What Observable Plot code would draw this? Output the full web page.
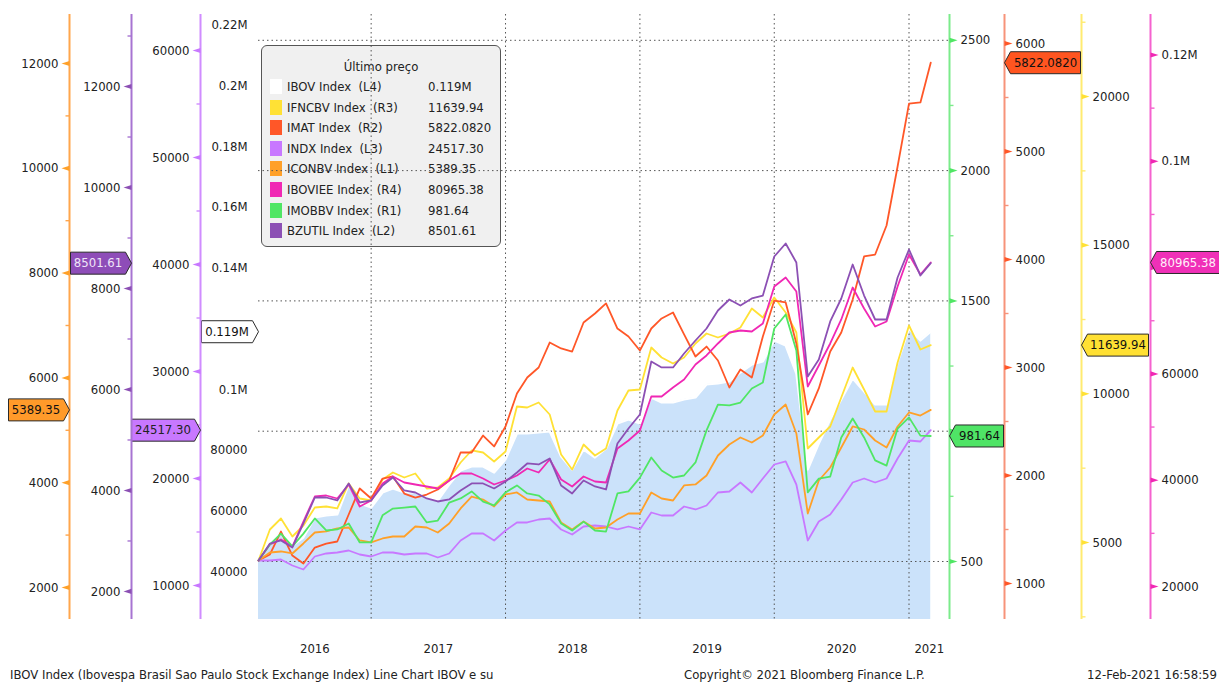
<!DOCTYPE html>
<html>
<head>
<meta charset="utf-8">
<script src="https://cdn.jsdelivr.net/npm/d3@7"></script>
<script src="https://cdn.jsdelivr.net/npm/@observablehq/plot@0.6"></script>
<style>
  html, body { margin: 0; padding: 0; background: #fff; }
  #wrap { position: relative; width: 1219px; height: 682px; overflow: hidden;
          font-family: "DejaVu Sans Condensed", "DejaVu Sans", sans-serif; font-stretch: condensed;
          font-size: 13px; color: #222; }
  #chart { position: absolute; left: 0; top: 0; z-index: 1; }
  #legend { position: absolute; left: 261px; top: 45px; width: 240px; height: 202px; box-sizing: border-box;
            background: #F0F0F0; border: 1.5px solid #555; border-radius: 6px; z-index: 0; }
  #legend .title { position: absolute; left: 0; right: 0; top: 11px; line-height: 20px; text-align: center; }
  #legend .row { position: absolute; left: 0; right: 0; height: 20px; line-height: 20px; }
  #legend .sw { position: absolute; left: 8px; top: 2px; width: 12px; height: 15px; }
  #legend .lab { position: absolute; left: 25px; white-space: pre; }
  #legend .val { position: absolute; left: 166px; white-space: pre; }
  .foot { position: absolute; top: 667px; line-height: 16px; white-space: pre; z-index: 2; }
</style>
</head>
<body>
<div id="wrap">
  <div id="legend"></div>
  <div id="chart"></div>
  <div class="foot" style="left:10px">IBOV Index (Ibovespa Brasil Sao Paulo Stock Exchange Index) Line Chart IBOV e su</div>
  <div class="foot" style="left:684px">Copyright© 2021 Bloomberg Finance L.P.</div>
  <div class="foot" style="right:2px">12-Feb-2021 16:58:59</div>
</div>
<script>
// ---------------- DATA ----------------
// monthly observations, Mar 2016 .. Mar 2021 (last = 12-Feb-2021)
const months = d3.utcMonth.range(new Date(Date.UTC(2016, 2, 1)), new Date(Date.UTC(2021, 2, 2)));

const ibovValues = [43625, 49885, 53180, 48567, 51203, 57793, 58452, 58781, 68666, 62405, 61088, 66030, 67348, 66030, 66030, 64382, 63394, 68666, 73278, 74596, 74596, 72620, 76903, 85470, 85470, 85800, 86129, 77891, 73608, 80198, 77562, 80527, 88765, 90083, 88765, 97331, 95684, 95684, 96672, 97331, 101615, 101944, 102603, 105568, 108204, 109193, 116112, 114465, 105239, 73608, 82175, 90083, 96672, 103592, 99308, 95025, 95025, 108863, 120066, 116112, 119000];
const ifncbvValues = [4395, 5437, 5807, 5202, 5572, 6177, 6211, 6144, 6985, 6480, 6413, 7119, 7355, 7186, 7321, 6816, 6850, 7153, 7691, 8095, 8027, 7725, 8061, 9575, 9541, 9709, 9305, 7960, 7455, 8296, 7926, 8162, 9440, 10113, 10146, 11559, 11223, 11021, 11223, 11694, 12030, 11895, 12030, 12232, 12871, 12568, 13241, 12736, 12064, 8162, 8532, 8902, 9877, 10886, 10146, 9406, 9406, 11054, 12299, 11492, 11639.94];
const imatValues = [1213, 1269, 1481, 1259, 1185, 1333, 1370, 1389, 1639, 1880, 1787, 1972, 1991, 1833, 1796, 1824, 1870, 1954, 2213, 2213, 2370, 2269, 2454, 2759, 2907, 3000, 3231, 3176, 3148, 3417, 3500, 3593, 3361, 3287, 3157, 3361, 3454, 3509, 3306, 3102, 3194, 3065, 2815, 2981, 2907, 3287, 3620, 3602, 3222, 2565, 2806, 3148, 3324, 3630, 4028, 4046, 4315, 4861, 5444, 5454, 5822.082];
const indxValues = [12336, 12336, 12430, 11869, 11495, 12710, 12991, 13084, 13271, 12897, 12710, 13084, 13084, 12897, 12991, 12991, 12617, 12991, 14206, 14860, 14860, 14206, 15140, 15888, 15888, 16168, 16262, 15234, 14766, 15514, 15607, 15514, 15234, 15514, 15234, 16822, 16542, 16542, 17383, 17103, 17477, 18692, 18785, 19626, 18692, 20000, 21308, 21589, 19439, 14206, 15981, 16636, 18037, 19626, 20000, 19626, 20000, 21869, 23551, 23458, 24517.30];
const iconbvValues = [2515, 2668, 2687, 2649, 2840, 3049, 3069, 3126, 3145, 2897, 2859, 2935, 2973, 2973, 3164, 3145, 3049, 3221, 3508, 3736, 3679, 3546, 3775, 3813, 3679, 3660, 3641, 3240, 3107, 3260, 3126, 3145, 3298, 3412, 3412, 3813, 3698, 3660, 3947, 3966, 4137, 4519, 4729, 4863, 4767, 4901, 5302, 5492, 4939, 3412, 4042, 4290, 4672, 5073, 5015, 4805, 4672, 5073, 5340, 5282, 5389.35];
const ibovieeValues = [24892, 27902, 28843, 27526, 32230, 36933, 37122, 36557, 39191, 35052, 36181, 39379, 40696, 39568, 39191, 38815, 38439, 39944, 41261, 41261, 40320, 39191, 39944, 40885, 42202, 41449, 43895, 40132, 38815, 40696, 39756, 39568, 45965, 47470, 49351, 55749, 55749, 57442, 58947, 61769, 63463, 65721, 67790, 68167, 67978, 69483, 76445, 78139, 75504, 57630, 61581, 65721, 70236, 76257, 72306, 68919, 69860, 76445, 82466, 78703, 80965.38];
const imobbvValues = [504, 565, 607, 558, 607, 665, 619, 623, 646, 573, 573, 677, 703, 707, 711, 650, 657, 726, 742, 769, 730, 715, 765, 792, 761, 753, 719, 646, 619, 653, 619, 615, 761, 769, 822, 899, 849, 822, 830, 880, 1003, 1102, 1099, 1110, 1164, 1187, 1394, 1448, 1310, 765, 818, 826, 976, 1049, 976, 888, 868, 1010, 1053, 983, 981.64];
const bzutilValues = [2614, 2950, 3010, 2871, 3347, 3861, 3861, 3802, 4139, 3762, 3802, 4099, 4257, 4000, 3960, 3842, 3782, 3822, 4000, 4139, 4139, 4040, 4178, 4356, 4535, 4515, 4634, 4099, 3941, 4198, 4079, 4020, 4931, 5228, 5505, 6554, 6436, 6436, 6713, 6970, 7208, 7564, 7782, 7663, 7802, 7861, 8634, 8891, 8515, 6257, 6594, 7347, 7802, 8475, 7861, 7386, 7386, 8218, 8772, 8257, 8501.61];

const seriesNames = ["IBOV", "IFNCBV", "IMAT", "INDX", "ICONBV", "IBOVIEE", "IMOBBV", "BZUTIL"];
const seriesAxes  = ["L4", "R3", "R2", "L3", "L1", "R4", "R1", "L2"];
const lastLabels  = ["0.119M", "11639.94", "5822.0820", "24517.30", "5389.35", "80965.38", "981.64", "8501.61"];
const seriesData  = [ibovValues, ifncbvValues, imatValues, indxValues, iconbvValues, ibovieeValues, imobbvValues, bzutilValues];

// tick values per axis
const majorTicks = {
  L1: [2000, 4000, 6000, 8000, 10000, 12000],
  L2: [2000, 4000, 6000, 8000, 10000, 12000],
  L3: [10000, 20000, 30000, 40000, 50000, 60000],
  L4: [40000, 60000, 80000, 100000, 120000, 140000, 160000, 180000, 200000, 220000],
  R1: [500, 1000, 1500, 2000, 2500],
  R2: [1000, 2000, 3000, 4000, 5000, 6000],
  R3: [5000, 10000, 15000, 20000],
  R4: [20000, 40000, 60000, 80000, 100000, 120000]
};
const minorTicks = {
  L1: [3000, 5000, 7000, 9000, 11000],
  L2: [3000, 5000, 7000, 9000, 11000, 13000],
  L3: [15000, 25000, 35000, 45000, 55000],
  L4: [],
  R1: [750, 1250, 1750, 2250],
  R2: [1500, 2500, 3500, 4500, 5500],
  R3: [2500, 7500, 12500, 17500, 22500],
  R4: [30000, 50000, 70000, 90000, 110000]
};
const yearLabels = ["2016", "2017", "2018", "2019", "2020", "2021"];

// ---------------- STYLE / LAYOUT ----------------
const seriesColors = ["#FFFFFF", "#FFE135", "#FF5728", "#C878FF", "#FFA028", "#F028B4", "#50E664", "#8C50B4"];
const W = 1219, H = 682, ML = 258, MR = 270, MT = 14, MB = 63;
const FL = ML, FR = W - MR, FH = H - MT - MB;
const xDomain = [new Date(Date.UTC(2016, 2, 1)), new Date(Date.UTC(2021, 3, 21))];

// each axis: position of its line and the value range covering the full plot height
const axisLayout = {
  L1: {side: "left",  x: 69,   lo: 1389,  hi: 12935,  line: "#FFA64D", boxW: 61, boxFill: "#FF9A2A", boxText: "#111"},
  L2: {side: "left",  x: 131,  lo: 1445,  hi: 13426,  line: "#A774D2", boxW: 61, boxFill: "#8E4DB8", boxText: "#F0E6F8"},
  L3: {side: "left",  x: 200,  lo: 6822,  hi: 63364,  line: "#D08CFF", boxW: 69, boxFill: "#C878FF", boxText: "#222"},
  L4: {side: "left",  x: 258,  lo: 24185, hi: 223524, line: null,      boxW: 57, boxFill: "#FFFFFF", boxText: "#111"},
  R1: {side: "right", x: 949,  lo: 277.4, hi: 2599,   line: "#7CEB8B", boxW: 54, boxFill: "#4FE466", boxText: "#111"},
  R2: {side: "right", x: 1004, lo: 666.7, hi: 6268.5, line: "#F7937A", boxW: 76, boxFill: "#FF5520", boxText: "#111"},
  R3: {side: "right", x: 1081, lo: 2410,  hi: 22760,  line: "#FFEB70", boxW: 67, boxFill: "#FFE033", boxText: "#111"},
  R4: {side: "right", x: 1150, lo: 13791, hi: 127620, line: "#F562CF", boxW: 69, boxFill: "#F030B8", boxText: "#FFF0FA"}
};
const norm = tag => { const a = axisLayout[tag]; return v => (v - a.lo) / (a.hi - a.lo); };
const fmtM = v => v >= 100000 ? (+(v / 1e6).toFixed(3)) + "M" : String(v);

// custom symbols
const triSym = s => ({draw(ctx) { ctx.moveTo(0, -2.6); ctx.lineTo(8 * s, 0); ctx.lineTo(0, 2.6); ctx.closePath(); }});
const dashSym = s => ({draw(ctx) { ctx.moveTo(0, 0); ctx.lineTo(4 * s, 0); }});
const flagSym = (w, h, s) => ({draw(ctx) {
  ctx.moveTo(0, 0); ctx.lineTo(6 * s, -h / 2); ctx.lineTo(w * s, -h / 2);
  ctx.lineTo(w * s, h / 2); ctx.lineTo(6 * s, h / 2); ctx.closePath();
}});

const marks = [];
const nL4 = norm("L4"), nR1 = norm("R1");

// IBOV area
marks.push(Plot.areaY(ibovValues, {x: (d, i) => months[i], y: d => nL4(d), fill: "#CBE2FA"}));

// grid
marks.push(Plot.ruleY(majorTicks.R1, {y: d => nR1(d), stroke: "#555", strokeWidth: 1, strokeDasharray: "1.5,3"}));
const yearStarts = [2017, 2018, 2019, 2020, 2021].map(y => new Date(Date.UTC(y, 0, 1)));
marks.push(Plot.ruleX(yearStarts, {stroke: "#555", strokeWidth: 1, strokeDasharray: "1.5,3"}));

// lines
seriesNames.forEach((name, k) => {
  const n = norm(seriesAxes[k]);
  marks.push(Plot.lineY(seriesData[k], {x: (d, i) => months[i], y: d => n(d), stroke: seriesColors[k],
    strokeWidth: k === 0 ? 2.2 : 1.8, strokeLinejoin: "round"}));
});

// axes + last-value flags
seriesNames.forEach((name, k) => {
  const tag = seriesAxes[k], ax = axisLayout[tag], n = norm(tag);
  const s = ax.side === "left" ? -1 : 1;
  const base = ax.side === "left" ? FL : FR;
  const dxA = ax.x - base;
  const last = seriesData[k][seriesData[k].length - 1];
  const shown = majorTicks[tag].filter(t => Math.abs((n(t) - n(last)) * FH) > 13);
  if (ax.line) {
    marks.push(Plot.ruleX([ax.side === "left" ? xDomain[0] : xDomain[1]], {stroke: ax.line, strokeWidth: 2, dx: dxA}));
    marks.push(Plot.dot(minorTicks[tag], {y: d => n(d), frameAnchor: ax.side, dx: dxA, symbol: dashSym(s),
      fill: "none", stroke: ax.line, strokeWidth: 1.4}));
    marks.push(Plot.dot(majorTicks[tag], {y: d => n(d), frameAnchor: ax.side, dx: dxA, symbol: triSym(s),
      fill: seriesColors[k], stroke: "none"}));
  }
  marks.push(Plot.text(shown, {y: d => n(d), frameAnchor: ax.side, dx: dxA + s * 11,
    textAnchor: ax.side === "left" ? "end" : "start", text: d => fmtM(d), fill: "#222", fontSize: 13}));
  marks.push(Plot.dot([last], {y: d => n(d), frameAnchor: ax.side, dx: dxA, symbol: flagSym(ax.boxW, 22, s),
    fill: ax.boxFill, stroke: "#2a2a2a", strokeWidth: 1}));
  marks.push(Plot.text([lastLabels[k]], {y: () => n(last), frameAnchor: ax.side, dx: dxA + s * (ax.boxW + 6) / 2,
    textAnchor: "middle", text: d => d, fill: ax.boxText, fontSize: 13}));
});

// year labels
const yearMid = y => {
  const a = Math.max(Date.UTC(y, 0, 1), +xDomain[0]), b = Math.min(Date.UTC(y + 1, 0, 1), +xDomain[1]);
  return new Date((a + b) / 2);
};
marks.push(Plot.text(yearLabels, {x: d => yearMid(+d), frameAnchor: "bottom", dy: 33, textAnchor: "middle",
  text: d => d, fill: "#222", fontSize: 13}));

const chart = Plot.plot({
  width: W, height: H,
  marginLeft: ML, marginRight: MR, marginTop: MT, marginBottom: MB,
  x: {type: "utc", domain: xDomain, axis: null},
  y: {domain: [0, 1], axis: null},
  style: {background: "transparent", fontFamily: "'DejaVu Sans Condensed','DejaVu Sans',sans-serif",
          fontStretch: "condensed", fontSize: "13px", overflow: "visible"},
  marks
});
document.getElementById("chart").appendChild(chart);

// legend
const legend = document.getElementById("legend");
legend.innerHTML = `<div class="title">Último preço</div>` + seriesNames.map((name, k) => {
  const top = 31 + k * 20.6;
  return `<div class="row" style="top:${top}px"><div class="sw" style="background:${seriesColors[k]}"></div>` +
    `<span class="lab">${name} Index  (${seriesAxes[k]})</span><span class="val">${lastLabels[k]}</span></div>`;
}).join("");
</script>
</body>
</html>
